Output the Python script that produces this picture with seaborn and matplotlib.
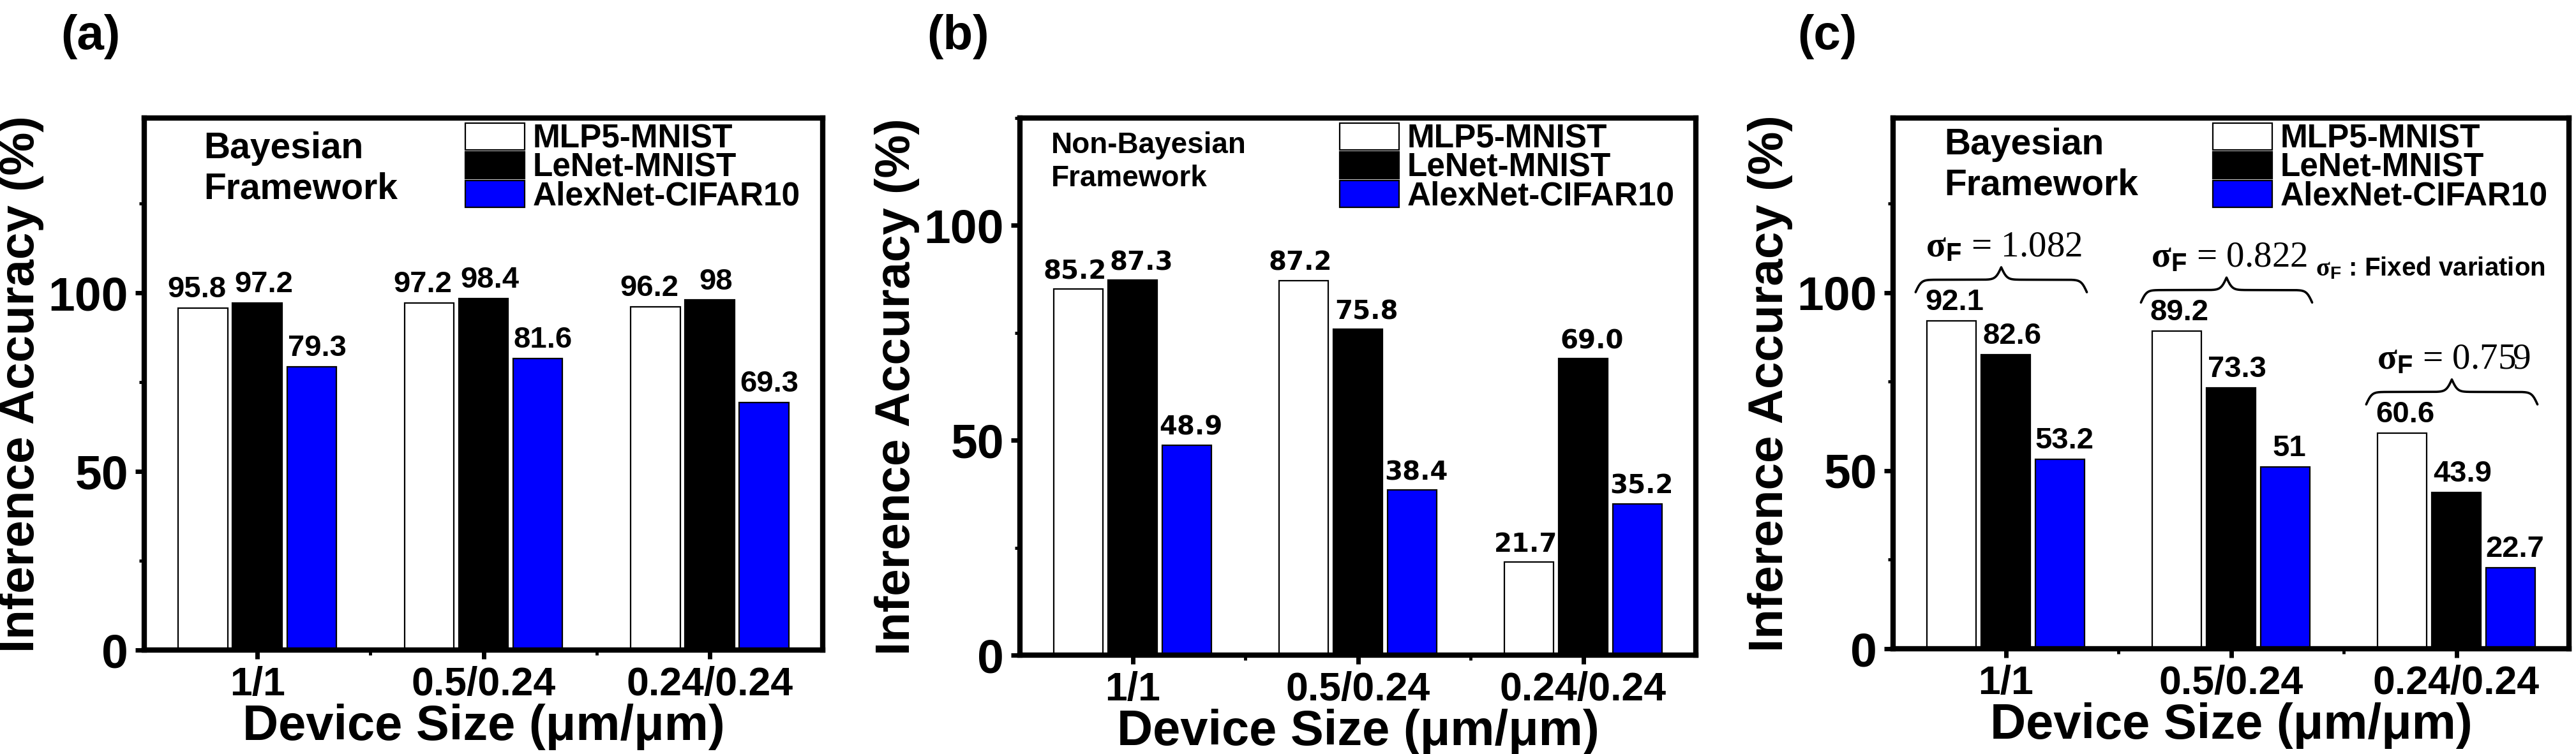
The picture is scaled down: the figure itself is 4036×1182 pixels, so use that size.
import numpy as np
import pandas as pd
import matplotlib
matplotlib.use('Agg')
import matplotlib.pyplot as plt
from matplotlib import font_manager
from matplotlib.patches import Patch
from matplotlib.font_manager import FontProperties
from matplotlib.ticker import MultipleLocator, FixedLocator
import seaborn as sns

# ---- data ----
sizes = ['1/1', '0.5/0.24', '0.24/0.24']
models = ['MLP5-MNIST', 'LeNet-MNIST', 'AlexNet-CIFAR10']
bar_colors = ['white', 'black', '#0000ff']

# (a) Bayesian framework, values as printed above bars
bayes_mlp5 = ['95.8', '97.2', '96.2']
bayes_lenet = ['97.2', '98.4', '98']
bayes_alexnet = ['79.3', '81.6', '69.3']

# (b) Non-Bayesian framework
nonbayes_mlp5 = ['85.2', '87.2', '21.7']
nonbayes_lenet = ['87.3', '75.8', '69.0']
nonbayes_alexnet = ['48.9', '38.4', '35.2']

# (c) Bayesian framework with fixed variation
fixed_mlp5 = ['92.1', '89.2', '60.6']
fixed_lenet = ['82.6', '73.3', '43.9']
fixed_alexnet = ['53.2', '51', '22.7']
sigma_f = ['1.082', '0.822', '0.759']

# ---- style ----
sns.set_style('ticks')
plt.rcParams['font.family'] = ['Liberation Sans', 'DejaVu Sans']
plt.rcParams['font.weight'] = 'bold'
plt.rcParams['axes.labelweight'] = 'bold'
for key in ['axes.edgecolor', 'axes.labelcolor', 'text.color',
            'xtick.color', 'ytick.color']:
    plt.rcParams[key] = 'black'
plt.rcParams['mathtext.fontset'] = 'custom'
plt.rcParams['mathtext.rm'] = 'Liberation Serif'
plt.rcParams['mathtext.it'] = 'Liberation Serif:italic'
plt.rcParams['mathtext.bf'] = 'Liberation Sans:bold'
plt.rcParams['mathtext.sf'] = 'Liberation Sans:bold'

installed = {f.name for f in font_manager.fontManager.ttflist}
if 'Liberation Sans Narrow' in installed:
    narrow = 'Liberation Sans Narrow'
    legend_font = FontProperties(family=narrow, weight='bold', size=45)
    note_font = FontProperties(family=narrow, weight='bold', size=35)
    nonbayes_size = 40
else:
    narrow = 'Liberation Sans'
    legend_font = FontProperties(family=narrow, weight='bold', size=37)
    note_font = FontProperties(family=narrow, weight='bold', size=29)
    nonbayes_size = 33


def panel_frame(mlp5, lenet, alexnet):
    rows = []
    for model, vals in zip(models, (mlp5, lenet, alexnet)):
        for size, v in zip(sizes, vals):
            rows.append({'size': size, 'model': model, 'acc': float(v)})
    return pd.DataFrame(rows)


def draw_panel(ax, series, ymax, note, note_xy, note_family, note_size,
               value_family, value_size, label_shift):
    df = panel_frame(*series)
    sns.barplot(data=df, x='size', y='acc', hue='model', order=sizes,
                hue_order=models, palette=bar_colors, saturation=1,
                edgecolor='black', linewidth=1.6, width=0.72, gap=0.09,
                errorbar=None, legend=False, ax=ax)
    # value labels sit a little off-centre in the original, nudge them
    for cont, labels, dx in zip(ax.containers, series, label_shift):
        anns = ax.bar_label(cont, labels=labels, padding=5, fontsize=value_size,
                            fontweight='bold', family=value_family)
        for ann in anns:
            ann.xyann = (dx, 5)

    ax.set_xlim(-0.5, 2.5)
    ax.set_ylim(0, ymax)
    ax.yaxis.set_major_locator(MultipleLocator(50))
    ax.yaxis.set_minor_locator(MultipleLocator(25))
    ax.xaxis.set_minor_locator(FixedLocator([0.5, 1.5]))
    ax.tick_params(axis='y', which='major', labelsize=54, pad=8)
    ax.tick_params(axis='x', which='major', labelsize=45, pad=8)
    ax.tick_params(which='major', direction='out', length=10, width=5)
    ax.tick_params(which='minor', direction='out', length=6, width=3.5)
    for s in ax.spines.values():
        s.set_linewidth(6)

    ax.set_ylabel('Inference Accuracy (%)', fontsize=55, fontweight='bold')
    ax.yaxis.set_label_coords(-0.148, 0.5)
    ax.set_xlabel('Device Size (\u03bcm/\u03bcm)', fontsize=56,
                  fontweight='bold', labelpad=0)

    ax.text(note_xy[0], note_xy[1], note, transform=ax.transAxes,
            ha='left', va='top', fontsize=note_size, fontweight='bold',
            family=note_family, linespacing=1.22)

    handles = [Patch(facecolor=c, edgecolor='black', linewidth=1.6, label=m)
               for c, m in zip(bar_colors, models)]
    ax.legend(handles=handles, loc='upper left', bbox_to_anchor=(0.466, 1.0),
              frameon=False, borderpad=0, borderaxespad=0.15,
              handlelength=1.81, handleheight=0.9, handletextpad=0.25,
              labelspacing=-0.1, prop=legend_font)


def brace(ax, xmid, half, ybase, h, beta=80):
    xs = np.linspace(xmid - half, xmid + half, 401)
    left = xs[:201]
    yh = (1 / (1 + np.exp(-beta * (left - left[0])))
          + 1 / (1 + np.exp(-beta * (left - left[-1]))))
    ys = np.concatenate([yh, yh[-2::-1]])
    ax.plot(xs, ybase + (ys - 0.5) * h, color='black', lw=2.6,
            solid_capstyle='round')


fig = plt.figure(figsize=(40.36, 11.82), dpi=100)
ax_a = fig.add_axes([0.05600, 0.13790, 0.26338, 0.70559])
ax_b = fig.add_axes([0.39594, 0.13113, 0.26239, 0.71236])
ax_c = fig.add_axes([0.73489, 0.13959, 0.26239, 0.70390])

draw_panel(ax_a, (bayes_mlp5, bayes_lenet, bayes_alexnet), 149,
           'Bayesian\nFramework', (0.088, 0.975), 'Liberation Sans', 41,
           'Liberation Sans', 34, (-7, 7, 6))
draw_panel(ax_b, (nonbayes_mlp5, nonbayes_lenet, nonbayes_alexnet), 125,
           'Non-Bayesian\nFramework', (0.046, 0.975), narrow, nonbayes_size,
           'DejaVu Sans', 29, (-4, 10, 5))
draw_panel(ax_c, (fixed_mlp5, fixed_lenet, fixed_alexnet), 149,
           'Bayesian\nFramework', (0.076, 0.982), 'Liberation Sans', 41,
           'Liberation Sans', 34, (3, 7, 5))

# braces and sigma_F annotations on (c)
group_max = [max(float(v) for v in vals)
             for vals in zip(fixed_mlp5, fixed_lenet, fixed_alexnet)]
for i, (gmax, sig) in enumerate(zip(group_max, sigma_f)):
    base = gmax + 8
    brace(ax_c, i - 0.02, 0.38, base, 7)
    ax_c.text(i - 0.01, base + 10, r'$\mathrm{\sigma}_{\mathbf{F}}$ = ' + sig,
              ha='center', va='baseline', fontsize=41,
              family='Liberation Serif', fontweight='normal')
ax_c.text(1.375, group_max[1] + 8 + 7.5,
          r'$\mathrm{\sigma}_{\mathbf{F}}$ : Fixed variation',
          ha='left', va='baseline', fontproperties=note_font)

for xpx, letter in [(95, '(a)'), (1452, '(b)'), (2816, '(c)')]:
    fig.text(xpx / 4036, 1 - 22 / 1182, letter, ha='left', va='top',
             fontsize=55, fontweight='bold')

fig.savefig('out.png', dpi=100)
